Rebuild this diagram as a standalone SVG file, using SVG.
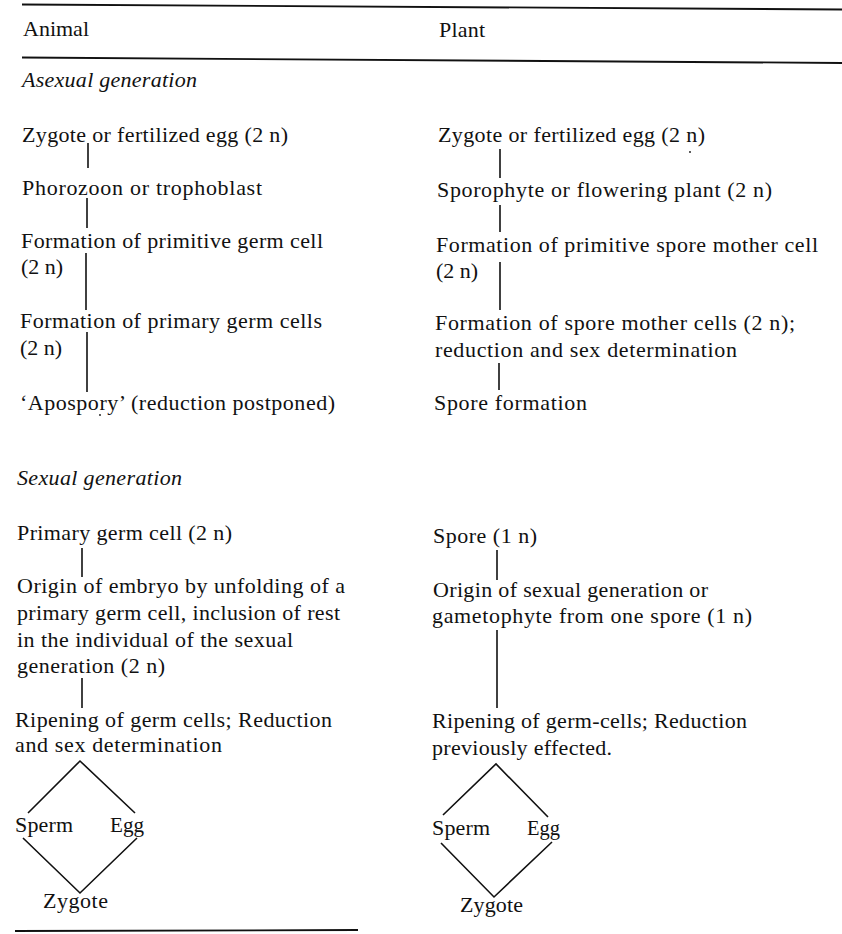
<svg xmlns="http://www.w3.org/2000/svg" width="842" height="934" viewBox="0 0 842 934">
<style>
text{font-family:"Liberation Serif","Times New Roman",serif;font-size:22px;fill:#111}
.it{font-style:italic}
.rule{stroke:#111;stroke-width:1.8;fill:none}
.con{stroke:#111;stroke-width:1.6;fill:none}
</style>
<rect width="842" height="934" fill="#fff"/>
<g id="rules">
<line class="rule" x1="22" y1="4.5" x2="842" y2="9.5"/>
<line class="rule" x1="22" y1="57.5" x2="842" y2="63"/>
<line class="rule" x1="15" y1="931" x2="358" y2="930"/>
</g>
<g id="header">
<text x="23" y="36" textLength="66" lengthAdjust="spacing">Animal</text>
<text x="439" y="37" textLength="46" lengthAdjust="spacing">Plant</text>
</g>
<g id="asexual-heading"><text class="it" x="22" y="87" textLength="175" lengthAdjust="spacing">Asexual generation</text></g>
<g id="sexual-heading"><text class="it" x="17" y="485" textLength="165" lengthAdjust="spacing">Sexual generation</text></g>

<g id="a1"><text x="22" y="142" textLength="266" lengthAdjust="spacing">Zygote or fertilized egg (2 n)</text></g>
<g id="a2"><text x="22" y="195" textLength="240" lengthAdjust="spacing">Phorozoon or trophoblast</text></g>
<g id="a3"><text x="21" y="248" textLength="302" lengthAdjust="spacing">Formation of primitive germ cell</text><text x="21" y="274" textLength="42" lengthAdjust="spacing">(2 n)</text></g>
<g id="a4"><text x="20" y="328" textLength="302" lengthAdjust="spacing">Formation of primary germ cells</text><text x="20" y="355" textLength="42" lengthAdjust="spacing">(2 n)</text></g>
<g id="a5"><text x="20" y="410" textLength="315" lengthAdjust="spacing">‘Apospory’ (reduction postponed)</text><circle cx="100" cy="415" r="0.9" fill="#111"/></g>
<g id="a6"><text x="17" y="540" textLength="215" lengthAdjust="spacing">Primary germ cell (2 n)</text></g>
<g id="a7"><text x="17" y="593" textLength="328" lengthAdjust="spacing">Origin of embryo by unfolding of a</text><text x="17" y="620" textLength="323" lengthAdjust="spacing">primary germ cell, inclusion of rest</text><text x="17" y="647" textLength="276" lengthAdjust="spacing">in the individual of the sexual</text><text x="17" y="673" textLength="148" lengthAdjust="spacing">generation (2 n)</text></g>
<g id="a8"><text x="15" y="727" textLength="317" lengthAdjust="spacing">Ripening of germ cells; Reduction</text><text x="15" y="752" textLength="207" lengthAdjust="spacing">and sex determination</text></g>
<g id="a-sperm"><text x="15" y="832" textLength="58" lengthAdjust="spacing">Sperm</text></g>
<g id="a-egg"><text x="110" y="832" textLength="34" lengthAdjust="spacingAndGlyphs">Egg</text></g>
<g id="a-zygote"><text x="43" y="908" textLength="65" lengthAdjust="spacing">Zygote</text></g>

<g id="p1"><text x="438" y="142" textLength="267" lengthAdjust="spacing">Zygote or fertilized egg (2 n)</text><circle cx="690" cy="152" r="0.9" fill="#111"/></g>
<g id="p2"><text x="437" y="197" textLength="335" lengthAdjust="spacing">Sporophyte or flowering plant (2 n)</text></g>
<g id="p3"><text x="436" y="252" textLength="382" lengthAdjust="spacing">Formation of primitive spore mother cell</text><text x="436" y="278" textLength="42" lengthAdjust="spacing">(2 n)</text></g>
<g id="p4"><text x="435" y="330" textLength="360" lengthAdjust="spacing">Formation of spore mother cells (2 n);</text><text x="435" y="357" textLength="302" lengthAdjust="spacing">reduction and sex determination</text></g>
<g id="p5"><text x="434" y="410" textLength="153" lengthAdjust="spacing">Spore formation</text></g>
<g id="p6"><text x="433" y="543" textLength="104" lengthAdjust="spacing">Spore (1 n)</text></g>
<g id="p7"><text x="433" y="597" textLength="275" lengthAdjust="spacing">Origin of sexual generation or</text><text x="432" y="623" textLength="320" lengthAdjust="spacing">gametophyte from one spore (1 n)</text></g>
<g id="p8"><text x="432" y="728" textLength="315" lengthAdjust="spacing">Ripening of germ-cells; Reduction</text><text x="432" y="755" textLength="180" lengthAdjust="spacing">previously effected.</text></g>
<g id="p-sperm"><text x="432" y="835" textLength="58" lengthAdjust="spacing">Sperm</text></g>
<g id="p-egg"><text x="527" y="835" textLength="33" lengthAdjust="spacingAndGlyphs">Egg</text></g>
<g id="p-zygote"><text x="460" y="912" textLength="63" lengthAdjust="spacing">Zygote</text></g>

<g id="connectors">
<line class="con" x1="88" y1="143" x2="88" y2="168"/>
<line class="con" x1="87" y1="198" x2="87" y2="228"/>
<line class="con" x1="86" y1="253" x2="86" y2="310"/>
<line class="con" x1="87" y1="332" x2="87" y2="392"/>
<line class="con" x1="82" y1="548" x2="82" y2="577"/>
<line class="con" x1="82" y1="678" x2="82" y2="708"/>
<polyline class="con" points="28,813 80,761 135,813"/>
<polyline class="con" points="23,838 80,893 137,838"/>
<line class="con" x1="500" y1="149" x2="500" y2="178"/>
<line class="con" x1="500" y1="205" x2="500" y2="232"/>
<line class="con" x1="500" y1="262" x2="500" y2="310"/>
<line class="con" x1="499" y1="363" x2="499" y2="390"/>
<line class="con" x1="497" y1="550" x2="497" y2="580"/>
<line class="con" x1="497" y1="630" x2="497" y2="708"/>
<polyline class="con" points="443,815 496,764 548,817"/>
<polyline class="con" points="441,843 494,897 552,842"/>
</g>
</svg>
